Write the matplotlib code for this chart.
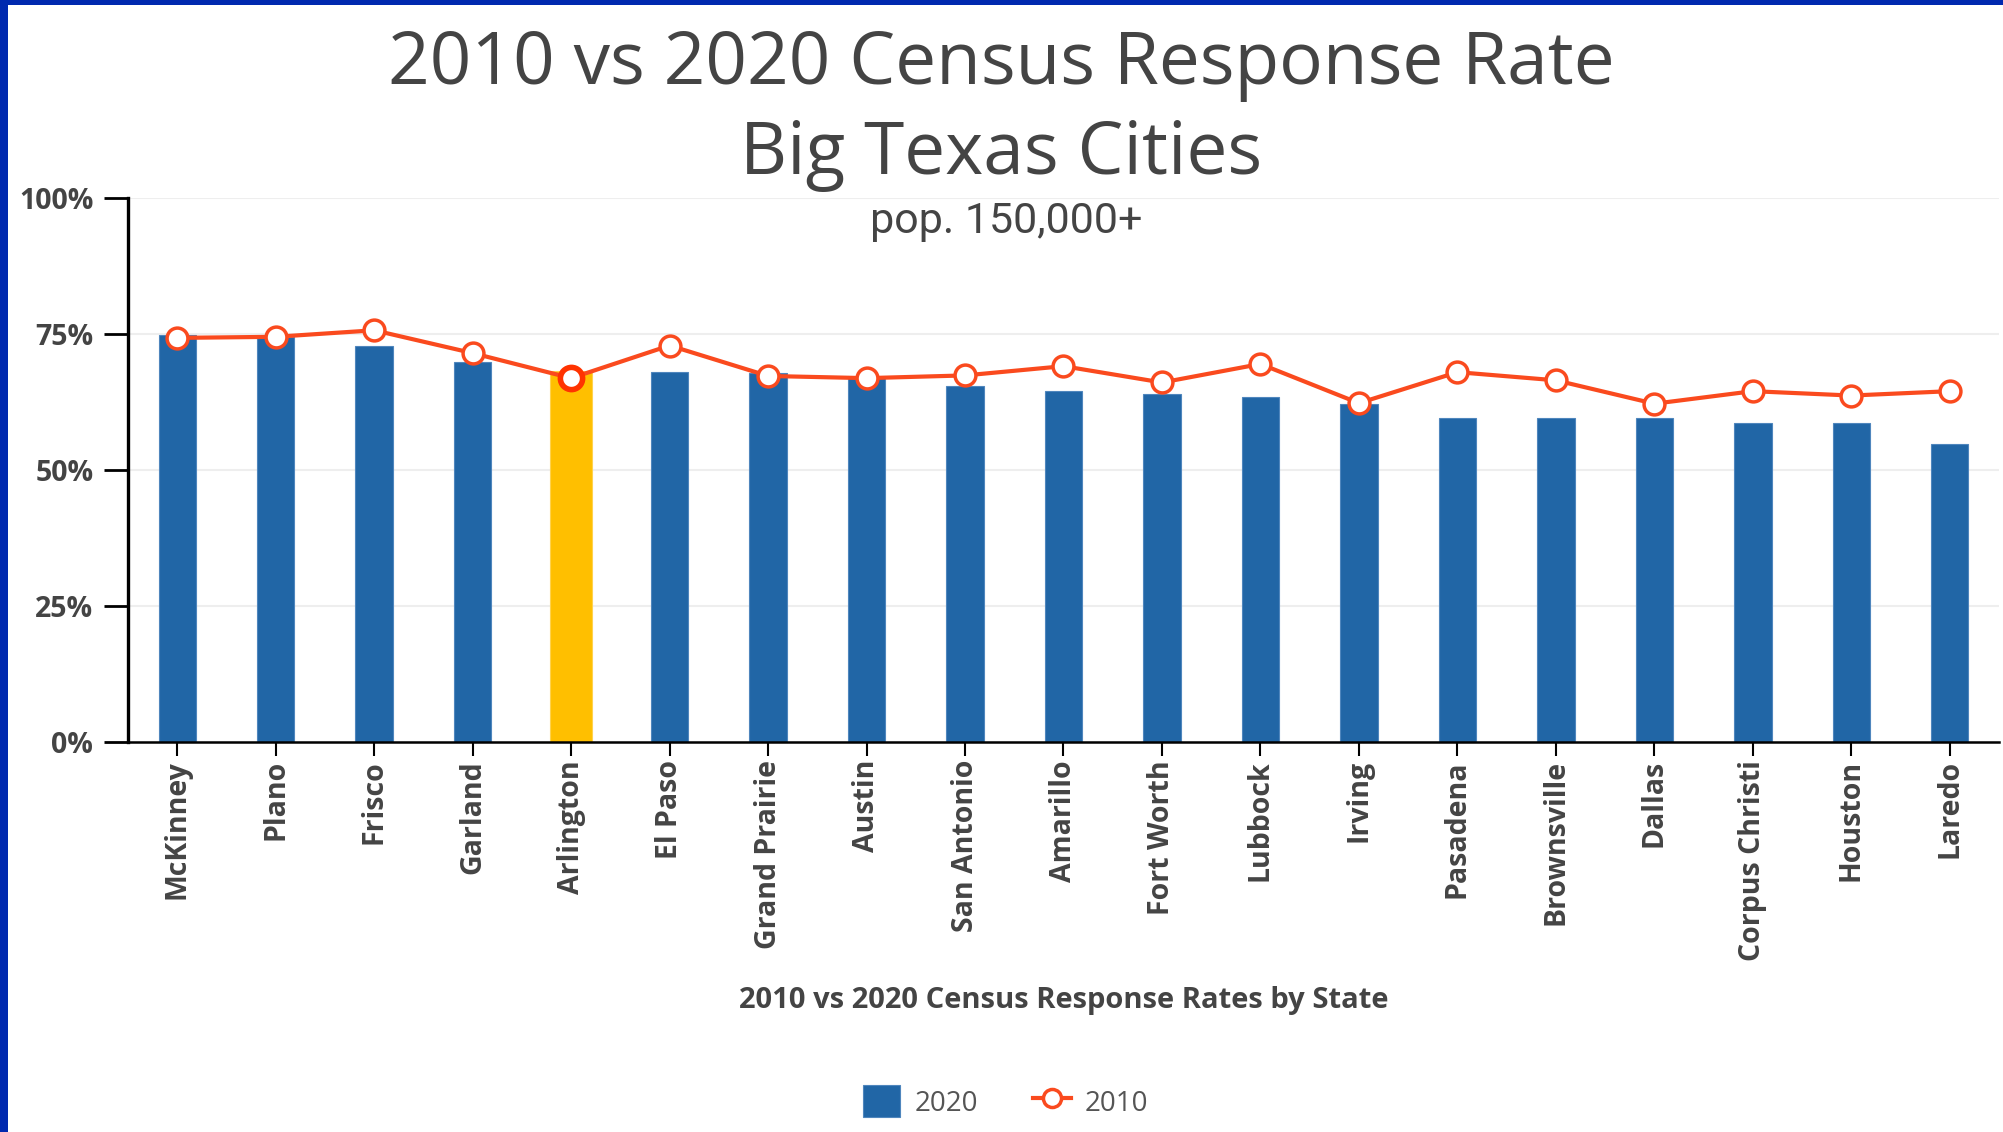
import matplotlib
matplotlib.use("Agg")
import matplotlib.pyplot as plt
from matplotlib.patches import Rectangle
from matplotlib.lines import Line2D
from matplotlib.ticker import FuncFormatter
import numpy as np

cities = ["McKinney", "Plano", "Frisco", "Garland", "Arlington", "El Paso",
          "Grand Prairie", "Austin", "San Antonio", "Amarillo", "Fort Worth",
          "Lubbock", "Irving", "Pasadena", "Brownsville", "Dallas",
          "Corpus Christi", "Houston", "Laredo"]
rate_2020 = [74.8, 74.5, 72.9, 69.8, 68.3, 68.0, 67.8, 67.2, 65.4, 64.5,
             63.9, 63.5, 62.2, 59.5, 59.5, 59.5, 58.7, 58.7, 54.7]
rate_2010 = [74.3, 74.5, 75.7, 71.5, 66.9, 72.9, 67.3, 66.9, 67.4, 69.1,
             66.1, 69.5, 62.3, 68.0, 66.5, 62.2, 64.5, 63.7, 64.5]
highlight = "Arlington"
y_ticks = [0, 25, 50, 75, 100]

BLUE = "#2166A6"
YELLOW = "#FFBF00"
RED = "#FA4A1E"
TXT = "#444444"

fig = plt.figure(figsize=(20.03, 11.32), dpi=100)
ax = fig.add_axes([0.0639, 0.3445, 0.998 - 0.0639, 0.825 - 0.3445])

x = np.arange(len(cities))
colors = [YELLOW if c == highlight else BLUE for c in cities]
widths = [0.43 if c == highlight else 0.38 for c in cities]
ax.bar(x, rate_2020, width=widths, color=colors, edgecolor=[
    "#FFD24D" if c == highlight else "#4F86BD" for c in cities],
    linewidth=0.8, zorder=2)
ax.plot(x, rate_2010, color=RED, lw=3.0, marker="o", markersize=15,
        markerfacecolor="white", markeredgecolor=RED, markeredgewidth=2.5,
        zorder=3)
hi = cities.index(highlight)
ax.plot([x[hi]], [rate_2010[hi]], marker="o", markersize=16,
        markerfacecolor="white", markeredgecolor="#FF3300",
        markeredgewidth=4.0, zorder=4)

ax.set_xlim(-0.5, len(cities) - 0.5)
ax.set_ylim(0, 100)
ax.set_yticks(y_ticks)
ax.yaxis.set_major_formatter(FuncFormatter(lambda v, p: f"{int(v)}%"))
ax.set_xticks(x)
ax.set_xticklabels(cities, rotation=90, fontfamily="Open Sans",
                   fontweight="bold", fontsize=20.5, color=TXT)
for lab in ax.get_xticklabels():
    lab.set_x(lab.get_position()[0] - 0.08)
for lab in ax.get_yticklabels():
    lab.set_fontfamily("Open Sans")
    lab.set_fontweight("bold")
    lab.set_fontsize(20.5)
    lab.set_color(TXT)

ax.grid(axis="y", color="#EEEEEE", lw=1.5, zorder=0)
ax.set_axisbelow(True)
for s in ["top", "right"]:
    ax.spines[s].set_visible(False)
ax.spines["left"].set_linewidth(2.4)
ax.spines["left"].set_color("black")
ax.spines["bottom"].set_linewidth(1.8)
ax.spines["bottom"].set_color("black")
ax.tick_params(axis="y", length=17, width=2.0, pad=8, color="black")
ax.tick_params(axis="x", length=10, width=1.5, pad=3, color="black")

fig.text(0.5, 0.943, "2010 vs 2020 Census Response Rate", ha="center",
         va="center", fontfamily="Open Sans", fontsize=52.5, color=TXT)
fig.text(0.5, 0.863, "Big Texas Cities", ha="center", va="center",
         fontfamily="Open Sans", fontsize=52.5, color=TXT)
fig.text(0.5025, 0.804, "pop. 150,000+", ha="center", va="center",
         fontfamily="Roboto", fontsize=31, color=TXT)
fig.text(0.531, 0.116, "2010 vs 2020 Census Response Rates by State",
         ha="center", va="center", fontfamily="Open Sans",
         fontweight="bold", fontsize=21, color=TXT)

handles = [
    Rectangle((0, 0), 1, 1, facecolor=BLUE, edgecolor="#4F86BD", lw=0.8),
    Line2D([0], [0], color=RED, lw=3.0, marker="o", markersize=13,
           markerfacecolor="white", markeredgecolor=RED, markeredgewidth=2.5),
]
fig.legend(handles, ["2020", "2010"], loc="center", ncol=2,
           bbox_to_anchor=(0.502, 0.027), frameon=False,
           prop={"family": "Open Sans", "size": 20}, labelcolor="#555555",
           handlelength=1.35, handleheight=1.4, columnspacing=2.0,
           handletextpad=0.5)

# frame
fig.add_artist(Rectangle((0, 0), 8 / 2003, 1, transform=fig.transFigure,
                         facecolor="#0029AF", edgecolor="none"))
fig.add_artist(Rectangle((0, 1 - 5 / 1132), 1, 5 / 1132,
                         transform=fig.transFigure, facecolor="#0029AF",
                         edgecolor="none"))

fig.savefig("out.png", dpi=100)
